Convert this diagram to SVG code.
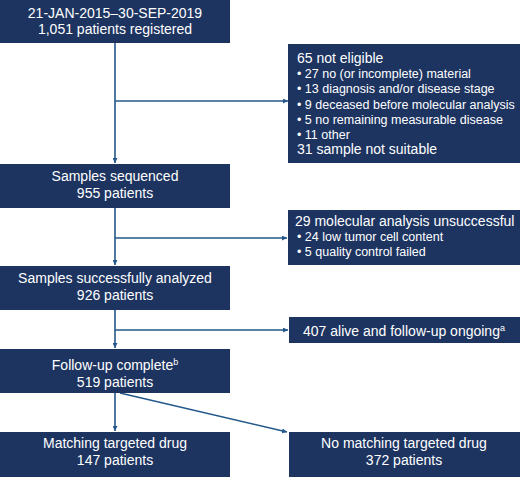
<svg xmlns="http://www.w3.org/2000/svg" width="520" height="477" viewBox="0 0 520 477">
<style>
.box{fill:#1d3461}
.t{font-family:"Liberation Sans",Arial,sans-serif;font-size:14px;fill:#ffffff}
.s{font-family:"Liberation Sans",Arial,sans-serif;font-size:12.5px;fill:#ffffff}
.c{text-anchor:middle}
.ln{stroke:#24578a;stroke-width:1.6;fill:none}
</style>
<defs>
<marker id="ah" viewBox="0 0 10 10" refX="10" refY="5" markerWidth="5" markerHeight="5" orient="auto" markerUnits="userSpaceOnUse">
<path d="M0,0 L10,5 L0,10 z" fill="#24578a"/>
</marker>
</defs>
<rect width="520" height="477" fill="#ffffff"/>
<g id="connectors">
<path class="ln" d="M115,43 V163" marker-end="url(#ah)"/>
<path class="ln" d="M115,101 H288" marker-end="url(#ah)"/>
<path class="ln" d="M115,208 V265" marker-end="url(#ah)"/>
<path class="ln" d="M115,238 H287" marker-end="url(#ah)"/>
<path class="ln" d="M115,310 V348" marker-end="url(#ah)"/>
<path class="ln" d="M115,330 H288" marker-end="url(#ah)"/>
<path class="ln" d="M115,393 V431" marker-end="url(#ah)"/>
<path class="ln" d="M120,393 L287,432" marker-end="url(#ah)"/>
</g>
<g id="n1">
<rect class="box" x="0" y="0" width="230" height="43"/>
<text class="t c" x="115" y="18">21-JAN-2015–30-SEP-2019</text>
<text class="t c" x="115" y="34">1,051 patients registered</text>
</g>
<g id="n2">
<rect class="box" x="288" y="44" width="232" height="119"/>
<text class="t" x="297" y="63">65 not eligible</text>
<text class="s" x="297" y="78">• 27 no (or incomplete) material</text>
<text class="s" x="297" y="93">• 13 diagnosis and/or disease stage</text>
<text class="s" x="297" y="108.5">• 9 deceased before molecular analysis</text>
<text class="s" x="297" y="123.5">• 5 no remaining measurable disease</text>
<text class="s" x="297" y="139">• 11 other</text>
<text class="t" x="297" y="154">31 sample not suitable</text>
</g>
<g id="n3">
<rect class="box" x="0" y="164" width="230" height="44"/>
<text class="t c" x="115" y="181">Samples sequenced</text>
<text class="t c" x="115" y="198">955 patients</text>
</g>
<g id="n4">
<rect class="box" x="288" y="210" width="232" height="55"/>
<text class="t" x="295" y="226">29 molecular analysis unsuccessful</text>
<text class="s" x="297" y="241">• 24 low tumor cell content</text>
<text class="s" x="297" y="256">• 5 quality control failed</text>
</g>
<g id="n5">
<rect class="box" x="0" y="266" width="230" height="44"/>
<text class="t c" x="115" y="283">Samples successfully analyzed</text>
<text class="t c" x="115" y="300">926 patients</text>
</g>
<g id="n6">
<rect class="box" x="289" y="317" width="231" height="26"/>
<text class="t c" x="404" y="336">407 alive and follow-up ongoing<tspan font-size="9" dy="-5">a</tspan></text>
</g>
<g id="n7">
<rect class="box" x="0" y="349" width="230" height="44"/>
<text class="t c" x="115" y="370">Follow-up complete<tspan font-size="9" dy="-5">b</tspan></text>
<text class="t c" x="115" y="387">519 patients</text>
</g>
<g id="n8">
<rect class="box" x="0" y="432" width="230" height="45"/>
<text class="t c" x="115" y="448">Matching targeted drug</text>
<text class="t c" x="115" y="465">147 patients</text>
</g>
<g id="n9">
<rect class="box" x="289" y="432" width="231" height="45"/>
<text class="t c" x="404" y="448">No matching targeted drug</text>
<text class="t c" x="404" y="465">372 patients</text>
</g>
</svg>
